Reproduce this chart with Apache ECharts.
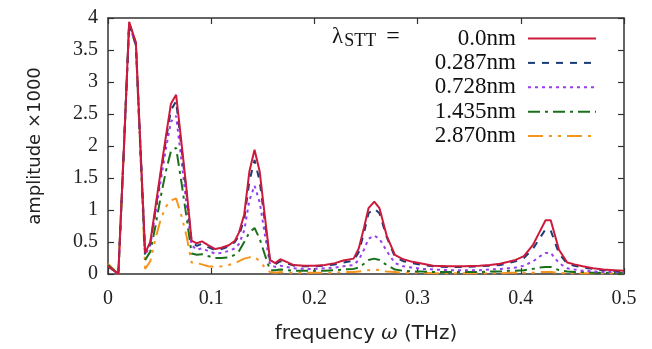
<!DOCTYPE html>
<html><head><meta charset="utf-8">
<script src="https://cdn.jsdelivr.net/npm/echarts@6/dist/echarts.min.js"></script>
<style>html,body{margin:0;padding:0;background:#fff}#c{width:652px;height:349px}</style>
</head><body><div id="c"></div>
<script>
const freq = [0,0.01,0.0155,0.0205,0.027,0.036,0.041,0.046,0.051,0.056,0.061,0.066,0.071,0.076,0.081,0.086,0.091,0.097,0.104,0.110,0.117,0.123,0.127,0.132,0.137,0.142,0.147,0.152,0.157,0.162,0.167,0.173,0.180,0.190,0.200,0.210,0.220,0.228,0.238,0.243,0.248,0.2525,0.258,0.263,0.270,0.278,0.286,0.295,0.305,0.315,0.330,0.345,0.360,0.370,0.380,0.388,0.395,0.403,0.412,0.418,0.424,0.429,0.437,0.445,0.452,0.460,0.470,0.480,0.490,0.500];
const amp0000 = [0.12,0,2.0,3.94,3.62,0.33,0.5,1.05,1.6,2.14,2.66,2.8,2.08,1.34,0.52,0.48,0.51,0.45,0.39,0.41,0.45,0.52,0.65,0.93,1.6,1.94,1.6,0.9,0.22,0.17,0.23,0.19,0.14,0.13,0.13,0.14,0.17,0.21,0.24,0.40,0.72,1.03,1.13,1.03,0.6,0.30,0.23,0.19,0.16,0.13,0.12,0.12,0.13,0.14,0.16,0.19,0.22,0.28,0.46,0.65,0.84,0.84,0.38,0.18,0.15,0.12,0.09,0.07,0.06,0.05];
const amp0287 = [0.12,0,2.0,3.92,3.6,0.32,0.48,1.0,1.55,2.08,2.56,2.7,2.0,1.28,0.5,0.44,0.47,0.42,0.37,0.39,0.43,0.5,0.6,0.86,1.45,1.78,1.45,0.82,0.2,0.15,0.2,0.17,0.13,0.12,0.12,0.13,0.15,0.18,0.21,0.34,0.64,0.95,1.02,0.95,0.58,0.27,0.2,0.17,0.14,0.12,0.11,0.11,0.12,0.13,0.14,0.17,0.2,0.25,0.4,0.55,0.7,0.68,0.32,0.16,0.13,0.1,0.08,0.06,0.05,0.04];
const amp0728 = [0.12,0,2.0,3.9,3.58,0.3,0.45,0.95,1.45,1.95,2.38,2.47,1.8,1.1,0.45,0.38,0.4,0.36,0.32,0.33,0.36,0.4,0.47,0.68,1.15,1.38,1.12,0.62,0.15,0.11,0.13,0.11,0.09,0.08,0.08,0.09,0.1,0.12,0.14,0.22,0.38,0.55,0.6,0.55,0.36,0.17,0.12,0.1,0.08,0.07,0.06,0.06,0.06,0.07,0.08,0.09,0.1,0.13,0.2,0.27,0.33,0.33,0.17,0.09,0.07,0.05,0.04,0.03,0.03,0.02];
const amp1435 = [0.14,0,2.0,3.9,3.58,0.22,0.35,0.75,1.2,1.6,1.92,1.97,1.45,0.9,0.32,0.3,0.31,0.28,0.25,0.25,0.26,0.3,0.36,0.5,0.65,0.72,0.55,0.3,0.06,0.06,0.07,0.06,0.05,0.05,0.05,0.05,0.06,0.07,0.08,0.1,0.16,0.22,0.24,0.22,0.14,0.07,0.05,0.04,0.04,0.03,0.03,0.03,0.03,0.04,0.04,0.05,0.05,0.06,0.08,0.1,0.11,0.11,0.06,0.04,0.03,0.03,0.02,0.02,0.02,0.01];
const amp2870 = [0.16,0,2.0,3.9,3.58,0.08,0.2,0.55,0.85,1.05,1.15,1.18,0.92,0.6,0.18,0.17,0.15,0.12,0.11,0.12,0.14,0.17,0.2,0.24,0.26,0.27,0.2,0.1,0.03,0.02,0.03,0.02,0.02,0.02,0.02,0.02,0.02,0.03,0.03,0.04,0.05,0.06,0.07,0.06,0.04,0.03,0.02,0.02,0.02,0.01,0.01,0.01,0.01,0.01,0.01,0.02,0.02,0.02,0.02,0.03,0.03,0.03,0.02,0.01,0.01,0.01,0.01,0.01,0.01,0.01];
const seriesNames = ['0.0nm','0.287nm','0.728nm','1.435nm','2.870nm'];
const seriesValues = [amp0000, amp0287, amp0728, amp1435, amp2870];
const xTicks = [0,0.1,0.2,0.3,0.4,0.5];
const yTicks = [0,0.5,1,1.5,2,2.5,3,3.5,4];

const colors = ['#cc1a3c','#1c3c78','#9a3cf0','#1a701a','#f7941d'];
const dashes = ['solid',[7,7],[3,4],[12,5,3,5],[15,6,3,6,3,6]];
const serif = 'Liberation Serif';
const chart = echarts.init(document.getElementById('c'), null, {renderer:'canvas'});
const series = seriesNames.map((n,i)=>({
  name:n, type:'line', symbol:'none', animation:false,
  data: freq.map((f,k)=>[f, seriesValues[i][k]]),
  lineStyle:{color:colors[i], width:2, type:dashes[i]},
  itemStyle:{color:colors[i]}, z: 10-i
}));
const axisLine = {show:true, onZero:false, lineStyle:{color:'#333', width:1.5}};
const tick = {show:true, inside:true, length:6, lineStyle:{color:'#333',width:1.2}};
chart.setOption({
  animation:false,
  grid:{left:108, right:28, top:18, bottom:73},
  xAxis:[
    {type:'value', min:0, max:0.5, interval:0.1, position:'bottom',
     axisLine, axisTick:tick, splitLine:{show:false},
     axisLabel:{fontFamily:serif, fontSize:20, color:'#222', margin:15, formatter:v=>xTicks.includes(+v.toFixed(2))?String(+v.toFixed(2)):''},
     name:'frequency {i|ω} (THz)', nameLocation:'middle', nameGap:50,
     nameTextStyle:{fontFamily:'DejaVu Sans', fontSize:20, color:'#222', rich:{i:{fontFamily:'DejaVu Serif', fontStyle:'italic', fontSize:20, color:'#222'}}}},
    {type:'value', min:0, max:0.5, interval:0.1, position:'top',
     axisLine, axisTick:tick, axisLabel:{show:false}, splitLine:{show:false}}
  ],
  yAxis:[
    {type:'value', min:0, max:4, interval:0.5, position:'left',
     axisLine, axisTick:tick, splitLine:{show:false},
     axisLabel:{fontFamily:serif, fontSize:20, color:'#222', margin:10, formatter:v=>yTicks.includes(v)?String(v):''},
     name:'amplitude ×1000', nameLocation:'middle', nameGap:64, nameRotate:90,
     nameTextStyle:{fontFamily:'DejaVu Sans', fontSize:18, color:'#222'}},
    {type:'value', min:0, max:4, interval:0.5, position:'right',
     axisLine, axisTick:tick, axisLabel:{show:false}, splitLine:{show:false}}
  ],
  legend:{
    orient:'vertical', right:50, top:22, align:'right', itemWidth:68, itemHeight:14, itemGap:1.4,
    itemStyle:{opacity:0},
    textStyle:{fontFamily:serif, fontSize:23, color:'#111', width:100, align:'right', padding:[0,7,0,0]},
    data: seriesNames
  },
  graphic:[
    {type:'text', left:332, top:25, z:100, style:{
      text:'{a|λ}{s|STT}{e|=}', rich:{
        a:{fontFamily:serif, fontSize:23, fill:'#111'},
        s:{fontFamily:serif, fontSize:18, fill:'#111', padding:[9,0,0,1]},
        e:{fontFamily:serif, fontSize:24, fill:'#111', padding:[0,0,0,10]}
      }}}
  ],
  series
});
</script></body></html>
